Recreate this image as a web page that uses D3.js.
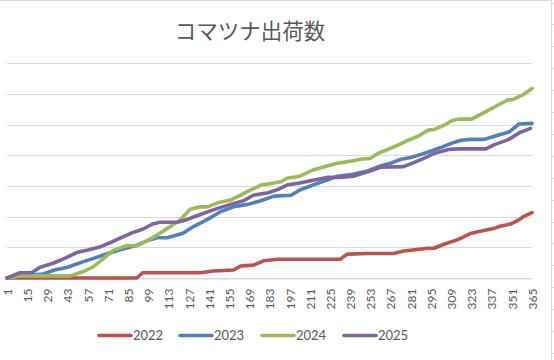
<!DOCTYPE html>
<html><head><meta charset="utf-8">
<script src="https://cdn.jsdelivr.net/npm/d3@7"></script>
<style>
html,body{margin:0;padding:0;background:#fff;}
svg{display:block;}
</style></head>
<body>
<svg id="chart" width="554" height="360"></svg>
<script>
const title = "コマツナ出荷数";
const days = d3.range(1, 366);
const tickLabels = [1,15,29,43,57,71,85,99,113,127,141,155,169,183,197,211,225,239,253,267,281,295,309,323,337,351,365];
const yTicks = [0,100,200,300,400,500,600,700];
const seriesNames = ["2022","2023","2024","2025"];
const seriesColors = ["#C0504D","#4F81BD","#9BBB59","#8064A2"];

// [day, cumulative value]
const s2022 = [[1,0],[91,0],[95,17],[135,17],[144,23],[158,26],[163,39],[172,42],[179,56],[189,61],[232,61],[237,78],[251,80],[269,80],[276,88],[293,97],[297,97],[304,110],[314,126],[323,146],[330,153],[339,162],[343,169],[350,176],[355,187],[359,200],[365,213]];
const s2023 = [[1,0],[10,7],[26,13],[34,26],[43,35],[52,50],[61,64],[70,78],[79,91],[91,107],[98,121],[105,131],[112,131],[123,146],[130,167],[140,191],[149,216],[158,232],[168,240],[177,252],[186,267],[198,270],[204,287],[213,303],[223,319],[230,332],[241,338],[251,349],[260,365],[267,374],[274,387],[281,393],[288,403],[295,414],[302,426],[309,439],[316,449],[323,452],[332,452],[339,462],[349,476],[356,502],[365,504]];
const s2024 = [[1,0],[10,7],[45,7],[54,21],[61,37],[68,64],[75,91],[84,105],[91,105],[98,121],[105,140],[112,161],[121,189],[128,224],[135,232],[140,232],[147,245],[156,254],[163,270],[170,287],[177,303],[184,308],[191,314],[195,325],[204,332],[213,352],[223,365],[230,374],[241,382],[246,387],[253,390],[258,406],[265,419],[272,433],[279,449],[286,462],[293,482],[297,484],[304,498],[309,512],[314,518],[323,518],[327,528],[334,545],[341,563],[348,580],[352,582],[359,598],[365,618]];
const s2025 = [[1,0],[10,17],[18,17],[24,35],[33,48],[41,64],[50,84],[57,91],[66,102],[73,116],[79,129],[88,148],[95,159],[102,176],[107,182],[119,182],[126,191],[135,207],[147,227],[156,240],[165,252],[172,270],[182,278],[189,289],[195,303],[204,310],[213,319],[223,328],[232,328],[241,332],[251,346],[260,361],[276,363],[283,376],[290,390],[297,406],[307,419],[314,421],[333,421],[339,435],[349,452],[356,473],[364,488]];
const seriesData = [s2022, s2023, s2024, s2025];

const svg = d3.select("#chart");
const W = 554, H = 360;
const plot = {left: 7, right: 532, top: 63.3, bottom: 278};
const textColor = "#595959";
const gridColor = "#D9D9D9";

// outer frame (top and right borders of the chart area)
svg.append("line").attr("x1",0).attr("x2",552).attr("y1",0.5).attr("y2",0.5).attr("stroke",gridColor);
svg.append("line").attr("x1",551.5).attr("x2",551.5).attr("y1",0).attr("y2",H).attr("stroke",gridColor);
d3.range(2.5, H, 21.9).forEach(y => {
  svg.append("line").attr("x1",552).attr("x2",554).attr("y1",Math.round(y)+0.5).attr("y2",Math.round(y)+0.5).attr("stroke",gridColor);
});

const x = d3.scalePoint().domain(days).range([plot.left, plot.right]);
const y = d3.scaleLinear().domain([0,700]).range([plot.bottom, plot.top]);

// gridlines
svg.append("g").selectAll("line").data(yTicks).join("line")
  .attr("x1", plot.left).attr("x2", plot.right)
  .attr("y1", d => Math.round(y(d))+0.5).attr("y2", d => Math.round(y(d))+0.5)
  .attr("stroke", gridColor).attr("stroke-width", 1);

// x axis
const xAxis = d3.axisBottom(x).tickValues(tickLabels).tickSize(0).tickPadding(0);
const gx = svg.append("g").attr("transform", `translate(0,${Math.round(plot.bottom)+0.5})`).call(xAxis);
gx.select(".domain").attr("stroke", gridColor);
gx.selectAll("text")
  .attr("fill", textColor)
  .style("font-family", "Lato, 'Liberation Sans', sans-serif")
  .style("font-size", "12px")
  .attr("text-anchor", "end")
  .attr("transform", "translate(0,10) rotate(-90)")
  .attr("x", 0).attr("y", 0).attr("dy", "0.36em");

// lines
const line = d3.line().x(d => x(d[0])).y(d => y(d[1]));
svg.append("g").selectAll("path").data(seriesData).join("path")
  .attr("d", line)
  .attr("fill", "none")
  .attr("stroke", (d,i) => seriesColors[i])
  .attr("stroke-width", 3.6)
  .attr("stroke-linejoin", "round")
  .attr("stroke-linecap", "round");

// title
svg.append("text").attr("x", 250).attr("y", 39).attr("text-anchor","middle")
  .attr("fill", textColor)
  .style("font-family", "'Noto Sans CJK JP', sans-serif")
  .style("font-size", "21.5px")
  .text(title);

// legend
const legendX = [98, 179, 261, 343];
const lg = svg.append("g");
seriesNames.forEach((n,i) => {
  const g = lg.append("g").attr("transform", `translate(${legendX[i]},335.5)`);
  g.append("line").attr("x1",1).attr("x2",33).attr("y1",0).attr("y2",0)
    .attr("stroke", seriesColors[i]).attr("stroke-width",3.6).attr("stroke-linecap","round");
  g.append("text").attr("x",35).attr("y",0).attr("dy","0.35em")
    .attr("fill", textColor)
    .style("font-family", "Lato, 'Liberation Sans', sans-serif")
    .style("font-size", "13px")
    .text(n);
});
</script>
</body></html>
